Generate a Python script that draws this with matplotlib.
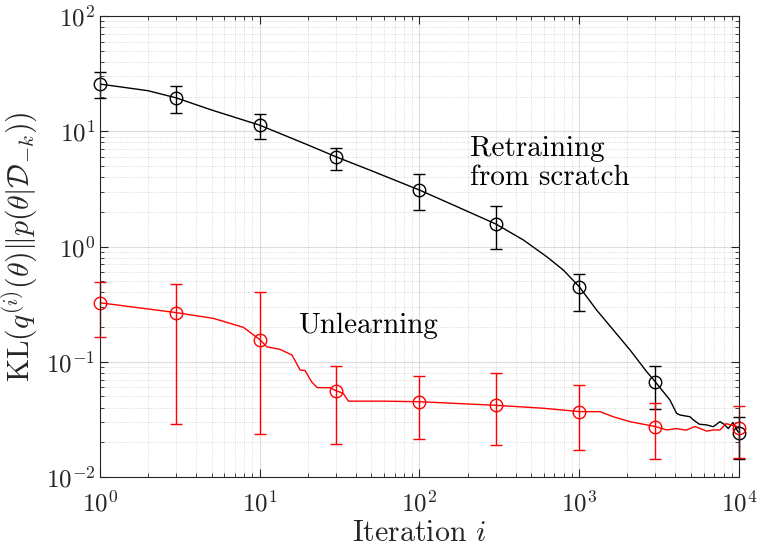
import matplotlib
matplotlib.use('Agg')
import matplotlib.pyplot as plt
import numpy as np

plt.rcParams['font.family'] = 'serif'
plt.rcParams['font.serif'] = ['cmr10']
plt.rcParams['mathtext.fontset'] = 'cm'
plt.rcParams['axes.formatter.use_mathtext'] = True

# marker points (iterations) with error bars
iters = [1, 3, 10, 30, 100, 300, 1000, 3000, 10000]

retrain_mean = [25.7, 19.5, 11.3, 6.01, 3.09, 1.57, 0.448, 0.0667, 0.0243]
retrain_low = [19.5, 14.4, 8.57, 4.58, 2.07, 0.96, 0.275, 0.0387, 0.0144]
retrain_high = [32.9, 24.7, 14.2, 7.19, 4.22, 2.24, 0.58, 0.0921, 0.0333]

unlearn_mean = [0.325, 0.267, 0.156, 0.0561, 0.045, 0.0419, 0.0364, 0.0274, 0.0265]
unlearn_low = [0.165, 0.0288, 0.0238, 0.0192, 0.0212, 0.019, 0.0171, 0.0143, 0.0145]
unlearn_high = [0.489, 0.473, 0.403, 0.0918, 0.0757, 0.0794, 0.0628, 0.0435, 0.0412]

# curves
retrain_x = [1, 2, 3, 5, 10, 20, 30, 50, 100, 163, 300, 447, 625, 795, 1000,
             1285, 1633, 2080, 2644, 3000, 3700, 4065, 4275, 4660, 4940, 5180,
             5650, 6280, 6900, 7600, 8130, 8560, 9170, 9800, 10000]
retrain_y = [25.7, 22.5, 19.5, 15.3, 11.3, 7.62, 6.01, 4.55, 3.09, 2.29, 1.57,
             1.14, 0.817, 0.625, 0.448, 0.281, 0.189, 0.1265, 0.082, 0.0667,
             0.0465, 0.0357, 0.0345, 0.0338, 0.0333, 0.0313, 0.0287, 0.0283,
             0.0273, 0.0302, 0.0285, 0.0263, 0.0297, 0.025, 0.0243]

unlearn_x = [1, 3, 5.12, 7.89, 10, 11.05, 13.4, 15.9, 17.9, 19.2, 21.1, 22.9,
             27.5, 30, 33.3, 35.9, 60, 100, 300, 596, 1011, 1350, 1634, 2080,
             3000, 3527, 4065, 4660, 5300, 6280, 6900, 7600, 8300, 8960, 9800,
             10000]
unlearn_y = [0.325, 0.267, 0.238, 0.199, 0.156, 0.135, 0.128, 0.1145, 0.0848,
             0.084, 0.0671, 0.0596, 0.0596, 0.0561, 0.0532, 0.0455, 0.0455,
             0.045, 0.0419, 0.0395, 0.0369, 0.0369, 0.0333, 0.0302, 0.0274,
             0.0256, 0.0263, 0.0255, 0.0274, 0.025, 0.0256, 0.0256, 0.029,
             0.0283, 0.0274, 0.0265]

fig = plt.figure(figsize=(7.57, 5.54), dpi=100)
ax = fig.add_axes([0.1321, 0.139, 0.8441, 0.832])

ax.plot(retrain_x, retrain_y, color='k', lw=1.0)
ax.plot(unlearn_x, unlearn_y, color='r', lw=1.0)

for mean, low, high, col in [(retrain_mean, retrain_low, retrain_high, 'k'),
                             (unlearn_mean, unlearn_low, unlearn_high, 'r')]:
    mean = np.array(mean)
    yerr = [mean - np.array(low), np.array(high) - mean]
    parts = ax.errorbar(iters, mean, yerr=yerr, fmt='o', color=col,
                        mfc='none', mec=col, ms=9, mew=1.0, elinewidth=1.0,
                        capsize=4.5, capthick=1.0)
    parts.lines[0].set_clip_on(False)
    for art in list(parts.lines[1]) + list(parts.lines[2]):
        art.set_clip_on(False)

ax.set_xscale('log')
ax.set_yscale('log')
ax.set_xlim(1, 1e4)
ax.set_ylim(1e-2, 1e2)

ax.grid(True, which='major', color='0.15', alpha=0.15, lw=0.8)
ax.grid(True, which='minor', color='0.15', alpha=0.22, lw=0.6, linestyle=':')
ax.tick_params(which='both', direction='in', top=True, right=True,
               labelsize=18, colors='0.15', labelcolor='0.15')
ax.tick_params(which='major', length=6)
ax.tick_params(which='minor', length=3)
ax.tick_params(axis='x', which='major', pad=10)
for s in ax.spines.values():
    s.set_color('0.15')
    s.set_linewidth(0.8)

ax.set_xlabel('Iteration $i$', fontsize=21.5, color='0.15', labelpad=2)
ax.set_ylabel(r'KL$(q^{(i)}(\theta)\|p(\theta|\mathcal{D}_{-k}))$', fontsize=21.5,
              color='0.15', labelpad=4)

ax.text(207, 5.3, 'Retraining\nfrom scratch', fontsize=21, ha='left',
        va='center', linespacing=1.15)
ax.text(17.4, 0.1766, 'Unlearning', fontsize=21, ha='left', va='baseline')

fig.savefig('out.png', dpi=100)
